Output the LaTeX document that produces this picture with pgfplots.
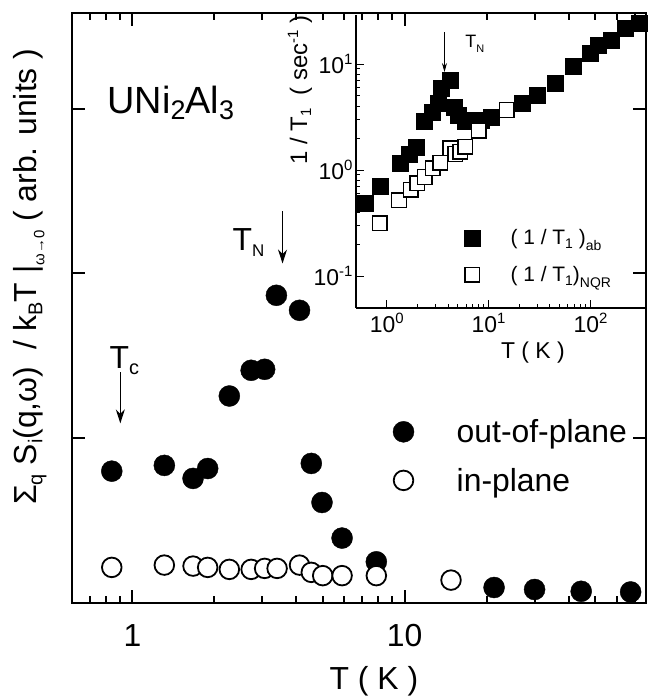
\documentclass[border=0pt]{standalone}
\usepackage{pgfplots}
\pgfplotsset{compat=1.18}
\usepackage{fontspec}
\setmainfont{Liberation Sans}
\usetikzlibrary{arrows.meta}
\newcommand{\fs}[1]{\fontsize{#1}{#1}\selectfont}
\newcommand{\lo}[3]{\raisebox{-#1}{\fs{#2}#3}}
\newcommand{\hi}[3]{\raisebox{#1}{\fs{#2}#3}}
\pgfplotsset{
  legmain/.style={legend image code/.code={\path (0bp,0bp) (73bp,0bp); \draw[##1] plot coordinates {(20bp,0bp)};}},
  leginset/.style={legend image code/.code={\path (0bp,0bp) (58bp,0bp); \draw[##1] plot coordinates {(20bp,0bp)};}},
}

\pgfplotstableread{
x y
0.84 0.80
1.31 0.835
1.67 0.756
1.89 0.816
2.27 1.256
2.73 1.412
3.06 1.418
3.38 1.867
4.11 1.776
4.54 0.847
4.97 0.61
5.89 0.394
7.87 0.25
21.3 0.094
30.0 0.082
44.5 0.071
67.6 0.067
}\outplane

\pgfplotstableread{
x y
0.84 0.216
1.31 0.230
1.67 0.224
1.89 0.216
2.27 0.204
2.73 0.204
3.06 0.210
3.40 0.210
4.11 0.230
4.54 0.186
5.00 0.166
5.89 0.166
7.87 0.166
14.8 0.139
}\inplane

\pgfplotstableread{
x y
0.61 0.485
0.855 0.71
1.35 1.17
1.65 1.42
1.95 1.66
2.32 2.86
2.8 3.5
3.2 4.3
3.45 5.9
4.22 7.0
4.55 3.95
5.0 3.3
5.92 2.86
7.2 2.96
8.4 2.96
10.7 3.18
21.5 4.26
29.7 5.1
44.9 6.6
67.8 9.44
98.6 12.6
119 15.1
161 16.8
217 21.7
299 24.5
}\abdata

\pgfplotstableread{
x y
0.855 0.314
1.32 0.52
1.72 0.65
2.0 0.75
2.35 0.86
2.84 1.04
3.37 1.17
4.22 1.6
4.72 1.42
5.28 1.49
5.92 1.66
7.98 2.35
15.1 3.68
}\nqrdata

\begin{document}
\begin{tikzpicture}
\useasboundingbox (-72bp,-93bp) rectangle (577bp,603bp);
\begin{axis}[
  at={(0,0)}, anchor=south west,
  scale only axis, width=574bp, height=590bp,
  clip mode=individual,
  xmode=log, xmin=0.6, xmax=77, ymin=0, ymax=3.58,
  xtick={1,10}, xticklabels={1,10},
  minor xtick={0.7,0.8,0.9,2,3,4,5,6,7,8,9,20,30,40,50,60,70},
  ytick={1,2,3}, yticklabels={},
  tick align=inside,
  major tick length=13bp, minor tick length=7bp,
  axis line style={line width=2.5bp},
  every tick/.style={black, line width=2bp},
  xticklabel style={font=\fs{32}, yshift=-18bp},
  xlabel={T ( K )},
  xlabel style={font=\fs{32}, at={(axis description cs:0.526,0)}, anchor=north, yshift=-60bp},
  legend style={draw=none, fill=none, inner sep=0pt, at={(axis description cs:0.542,0.249)}, anchor=west, font=\fs{32}, row sep=20bp, nodes={inner xsep=0pt}},
  legend cell align=left,
]
\addplot[only marks, mark=*, mark size=10.5bp, black, legmain] table {\outplane};
\addlegendentry{out-of-plane}
\addplot[only marks, mark=*, mark size=9.8bp, mark options={fill=white, draw=black, line width=1.8bp}, legmain] table {\inplane};
\addlegendentry{in-plane}
\node[rotate=90, anchor=center, font=\fs{32}] at (axis description cs:-0.0732,0.553)
  {Σ\lo{6bp}{20}{q} S\lo{6bp}{20}{i}(q,ω)\ \ / k\lo{6bp}{20}{B}T |\lo{8bp}{15}{ω→0} ( arb. units )};
\node[anchor=base west, font=\fs{38}, inner sep=0pt] at (axis cs:0.809,2.97) {UNi\lo{6bp}{27}{2}Al\lo{6bp}{27}{3}};
\node[anchor=base west, font=\fs{32}, inner sep=0pt] at (axis cs:2.33,2.14) {T\lo{6bp}{17}{N}};
\draw[line width=1.2bp, -{Stealth[length=14bp,width=9bp]}] (axis cs:3.56,2.376) -- (axis cs:3.56,2.06);
\node[anchor=base west, font=\fs{32}, inner sep=0pt] at (axis cs:0.823,1.424) {T\lo{6bp}{20}{c}};
\draw[line width=1.2bp, -{Stealth[length=14bp,width=9bp]}] (axis cs:0.903,1.40) -- (axis cs:0.903,1.09);
\end{axis}

\begin{axis}[
  at={(284bp,295bp)}, anchor=south west,
  scale only axis, width=290bp, height=293bp,
  clip mode=individual,
  xmode=log, ymode=log, xmin=0.5, xmax=350, ymin=0.05, ymax=29,
  axis lines*=left,
  axis line style={line width=1.3bp, -},
  every tick/.style={black, line width=1bp},
  tick align=inside,
  major tick length=8bp, minor tick length=4.5bp,
  xtick={1,10,100}, xticklabels={10\hi{9bp}{15}{0},10\hi{9bp}{15}{1},10\hi{9bp}{15}{2}},
  ytick={0.1,1,10}, yticklabels={10\hi{9bp}{15}{-1},10\hi{9bp}{15}{0},10\hi{9bp}{15}{1}},
  xticklabel style={font=\fs{23}, yshift=-2bp},
  yticklabel style={font=\fs{23}},
  xlabel={T ( K )},
  xlabel style={font=\fs{23}, at={(axis description cs:0.61,0)}, anchor=north, yshift=-30bp},
  legend style={draw=none, fill=none, inner sep=0pt, at={(axis description cs:0.331,0.176)}, anchor=west, font=\fs{21}, row sep=16bp, nodes={inner xsep=0pt}},
  legend cell align=left,
]
\addplot[only marks, mark=square*, mark size=8bp, black, leginset] table {\abdata};
\addlegendentry{( 1 / T\lo{4bp}{14}{1} )\lo{6bp}{14}{ab}}
\addplot[only marks, mark=square*, mark size=7.3bp, mark options={fill=white, draw=black, line width=1.4bp}, leginset] table {\nqrdata};
\addlegendentry{( 1 / T\lo{4bp}{14}{1})\lo{6bp}{14}{NQR}}
\node[rotate=90, anchor=center, font=\fs{24}] at (axis description cs:-0.193,0.744)
  {1 / T\lo{4bp}{15}{1}\ \ ( sec\hi{9bp}{15}{-1} )};
\node[anchor=base west, font=\fs{18}, inner sep=0pt] at (axis cs:5.9,14.2) {T\lo{5bp}{11}{N}};
\draw[line width=0.8bp, -{Stealth[length=9bp,width=5bp]}] (axis cs:3.69,20) -- (axis cs:3.69,8.4);
\end{axis}
\end{tikzpicture}
\end{document}
